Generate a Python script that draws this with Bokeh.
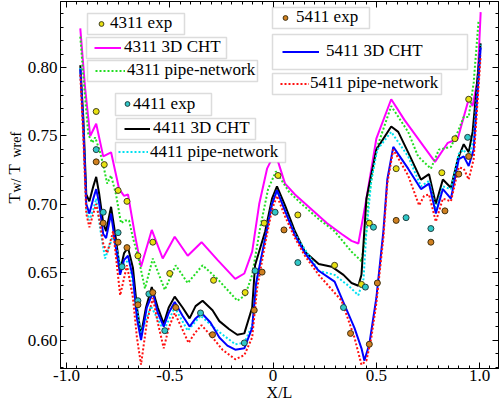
import math
import numpy as np
from bokeh.plotting import figure
from bokeh.layouts import row
from bokeh.models import (LinearAxis, FixedTicker, NumeralTickFormatter, CustomJSTickFormatter,
                          Legend, LegendItem, BoxAnnotation, Label, Range1d)
from bokeh.embed import file_html
from bokeh.resources import INLINE

# ---------------- data (X/L, Tw/Twref) ----------------
cht_4311 = [(-0.933,0.829),(-0.909,0.784),(-0.885,0.750),(-0.856,0.759),(-0.822,0.735),(-0.784,0.738),
            (-0.745,0.711),(-0.721,0.706),(-0.702,0.707),(-0.668,0.677),(-0.639,0.654),(-0.587,0.681),
            (-0.534,0.660),(-0.476,0.676),(-0.413,0.662),(-0.346,0.672),(-0.269,0.659),(-0.183,0.645),
            (-0.139,0.649),(-0.101,0.665),(-0.067,0.700),(-0.029,0.726),(0.010,0.738),(0.058,0.715),
            (0.106,0.707),(0.260,0.686),(0.332,0.678),(0.380,0.673),(0.413,0.671),(0.452,0.704),
            (0.500,0.748),(0.572,0.777),(0.635,0.762),(0.731,0.742),(0.784,0.731),(0.846,0.745),
            (0.894,0.748),(0.923,0.764),(0.947,0.777),(0.966,0.772),(0.990,0.791),(1.005,0.841)]
pipe_4311 = [(-0.933,0.823),(-0.913,0.784),(-0.894,0.751),(-0.875,0.745),(-0.861,0.749),(-0.841,0.740),
             (-0.822,0.729),(-0.803,0.715),(-0.784,0.721),(-0.760,0.707),(-0.736,0.686),(-0.716,0.688),
             (-0.697,0.688),(-0.678,0.675),(-0.654,0.662),(-0.620,0.638),(-0.582,0.660),(-0.524,0.637),
             (-0.471,0.655),(-0.413,0.642),(-0.341,0.655),(-0.269,0.645),(-0.173,0.629),(-0.135,0.633),
             (-0.101,0.648),(-0.063,0.682),(-0.024,0.711),(0.014,0.724),(0.077,0.709),(0.139,0.700),
             (0.221,0.689),(0.298,0.680),(0.380,0.665),(0.428,0.658),(0.452,0.680),(0.462,0.704),
             (0.500,0.740),(0.572,0.772),(0.654,0.753),(0.702,0.735),(0.764,0.726),(0.803,0.740),
             (0.861,0.742),(0.894,0.753),(0.923,0.764),(0.947,0.764),(0.971,0.789),(0.995,0.835)]
cht_4411 = [(-0.933,0.802),(-0.918,0.762),(-0.904,0.707),(-0.889,0.702),(-0.870,0.713),(-0.856,0.720),
            (-0.841,0.707),(-0.822,0.686),(-0.808,0.680),(-0.784,0.698),(-0.764,0.678),(-0.740,0.651),
            (-0.721,0.664),(-0.702,0.668),(-0.678,0.653),(-0.659,0.624),(-0.639,0.604),(-0.615,0.624),
            (-0.587,0.639),(-0.558,0.624),(-0.529,0.612),(-0.505,0.624),(-0.476,0.632),(-0.438,0.624),
            (-0.404,0.616),(-0.375,0.625),(-0.341,0.629),(-0.293,0.622),(-0.260,0.614),(-0.212,0.608),
            (-0.173,0.604),(-0.139,0.605),(-0.101,0.624),(-0.087,0.655),(-0.038,0.680),(-0.005,0.704),
            (0.019,0.713),(0.058,0.699),(0.106,0.680),(0.154,0.665),(0.221,0.656),(0.284,0.654),
            (0.341,0.648),(0.380,0.642),(0.413,0.640),(0.428,0.648),(0.452,0.704),(0.500,0.740),
            (0.572,0.757),(0.606,0.753),(0.654,0.738),(0.716,0.718),(0.755,0.722),(0.788,0.700),
            (0.822,0.718),(0.861,0.712),(0.894,0.733),(0.923,0.744),(0.947,0.738),(0.966,0.753),
            (1.005,0.818)]
pipe_4411 = [(-0.933,0.800),(-0.918,0.755),(-0.904,0.696),(-0.889,0.688),(-0.870,0.696),(-0.856,0.704),
             (-0.837,0.682),(-0.813,0.660),(-0.774,0.677),(-0.736,0.654),(-0.697,0.659),(-0.668,0.631),
             (-0.639,0.605),(-0.591,0.625),(-0.529,0.607),(-0.476,0.624),(-0.413,0.607),(-0.351,0.618),
             (-0.269,0.607),(-0.183,0.597),(-0.139,0.598),(-0.101,0.611),(-0.077,0.645),(-0.038,0.675),
             (-0.005,0.700),(0.019,0.710),(0.058,0.695),(0.106,0.678),(0.221,0.651),(0.298,0.648),
             (0.365,0.640),(0.413,0.633),(0.438,0.645),(0.452,0.680),(0.476,0.718),(0.505,0.740),
             (0.572,0.753),(0.654,0.735),(0.716,0.713),(0.755,0.717),(0.788,0.696),(0.822,0.713),
             (0.861,0.711),(0.899,0.737),(0.923,0.740),(0.947,0.733),(0.971,0.748),(1.005,0.817)]
cht_5411 = [(-0.933,0.799),(-0.918,0.755),(-0.904,0.700),(-0.889,0.693),(-0.870,0.704),(-0.856,0.711),
            (-0.841,0.700),(-0.822,0.678),(-0.808,0.675),(-0.784,0.693),(-0.764,0.671),(-0.740,0.648),
            (-0.721,0.659),(-0.702,0.662),(-0.678,0.646),(-0.659,0.616),(-0.639,0.600),(-0.611,0.624),
            (-0.582,0.635),(-0.558,0.620),(-0.529,0.610),(-0.505,0.620),(-0.476,0.628),(-0.438,0.618),
            (-0.404,0.610),(-0.375,0.616),(-0.346,0.620),(-0.303,0.613),(-0.260,0.602),(-0.221,0.596),
            (-0.183,0.593),(-0.139,0.594),(-0.101,0.609),(-0.082,0.642),(-0.038,0.675),(-0.005,0.700),
            (0.019,0.710),(0.058,0.695),(0.106,0.677),(0.154,0.664),(0.221,0.651),(0.298,0.643),
            (0.346,0.626),(0.394,0.609),(0.428,0.594),(0.442,0.585),(0.466,0.597),(0.500,0.631),
            (0.534,0.680),(0.553,0.718),(0.582,0.742),(0.654,0.726),(0.716,0.711),(0.755,0.715),
            (0.788,0.693),(0.822,0.711),(0.861,0.704),(0.899,0.733),(0.923,0.735),(0.947,0.728),
            (0.971,0.740),(1.005,0.815)]
pipe_5411 = [(-0.933,0.795),(-0.918,0.748),(-0.904,0.693),(-0.889,0.683),(-0.870,0.693),(-0.856,0.700),
             (-0.841,0.689),(-0.822,0.671),(-0.803,0.664),(-0.774,0.680),(-0.740,0.633),(-0.707,0.655),
             (-0.678,0.631),(-0.659,0.602),(-0.639,0.582),(-0.611,0.613),(-0.582,0.631),(-0.558,0.613),
             (-0.529,0.594),(-0.505,0.609),(-0.476,0.620),(-0.442,0.609),(-0.409,0.598),(-0.380,0.605),
             (-0.346,0.611),(-0.293,0.602),(-0.245,0.593),(-0.183,0.586),(-0.139,0.589),(-0.101,0.602),
             (-0.077,0.638),(-0.038,0.671),(-0.005,0.696),(0.019,0.706),(0.058,0.691),(0.106,0.675),
             (0.154,0.662),(0.221,0.648),(0.332,0.629),(0.394,0.602),(0.428,0.582),(0.452,0.585),
             (0.476,0.602),(0.500,0.627),(0.534,0.675),(0.553,0.715),(0.582,0.740),(0.654,0.721),
             (0.707,0.699),(0.731,0.706),(0.755,0.707),(0.788,0.687),(0.822,0.704),(0.861,0.702),
             (0.899,0.727),(0.923,0.726),(0.947,0.718),(0.971,0.733),(1.005,0.809)]
exp_4311 = [(-0.856,0.768),(-0.817,0.729),(-0.750,0.710),(-0.707,0.702),(-0.654,0.662),(-0.582,0.672),
            (-0.500,0.649),(-0.288,0.644),(-0.135,0.635),(-0.043,0.686),(0.024,0.721),(0.120,0.692),
            (0.298,0.655),(0.428,0.641),(0.466,0.686),(0.596,0.726),(0.817,0.723),(0.880,0.748),
            (0.947,0.777)]
exp_4411 = [(-0.856,0.740),(-0.822,0.694),(-0.750,0.679),(-0.731,0.654),(-0.654,0.629),(-0.601,0.634),
            (-0.524,0.607),(-0.351,0.620),(-0.139,0.598),(-0.087,0.651),(0.010,0.694),(0.120,0.657),
            (0.341,0.624),(0.447,0.639),(0.486,0.683),(0.644,0.690),(0.764,0.682),(0.942,0.749)]
exp_5411 = [(-0.856,0.731),(-0.822,0.686),(-0.750,0.672),(-0.707,0.668),(-0.654,0.626),(-0.582,0.635),
            (-0.471,0.624),(-0.293,0.604),(-0.091,0.622),(-0.053,0.650),(0.053,0.681),(0.375,0.605),
            (0.466,0.597),(0.505,0.642),(0.596,0.688),(0.764,0.672),(0.832,0.695),(0.899,0.722),
            (0.947,0.735)]

x_ticks = [-1.0, -0.5, 0.0, 0.5, 1.0]
y_ticks = [0.60, 0.65, 0.70, 0.75, 0.80]

FONT = "Liberation Serif"

def xs(d): return [a for a, b in d]
def ys(d): return [b for a, b in d]

# ---------------- layout geometry (page pixels) ----------------
YW = 24           # width of the y-title strip
H = 405
FL, FB = 57, 368  # frame left / bottom in page pixels

p = figure(width=500 - YW, height=H, output_backend="svg", toolbar_location=None,
           x_range=Range1d(-1.0288, 1.0913), y_range=Range1d(0.5792, 0.8488),
           min_border_left=FL - YW, min_border_right=2, min_border_top=1, min_border_bottom=H - FB,
           x_axis_location=None, y_axis_location=None)
for g in p.grid:
    g.visible = False
p.outline_line_color = "black"
p.outline_line_width = 1
p.background_fill_color = "white"
p.border_fill_color = "white"

xt = FixedTicker(ticks=x_ticks, minor_ticks=list(np.round(np.arange(-1.05, 1.101, 0.05), 3)))
yt = FixedTicker(ticks=y_ticks, minor_ticks=list(np.round(np.arange(0.58, 0.8451, 0.01), 3)))

def style_axis(ax, show_labels):
    ax.axis_line_color = "black"
    ax.axis_line_width = 1
    ax.major_tick_in = 6
    ax.major_tick_out = 0
    ax.minor_tick_in = 3
    ax.minor_tick_out = 0
    ax.major_tick_line_color = "black"
    ax.minor_tick_line_color = "black"
    ax.major_label_text_font = FONT
    if show_labels:
        ax.major_label_text_font_size = "17px"
        ax.major_label_text_color = "black"
    else:
        ax.major_label_text_font_size = "0px"
        ax.major_label_text_color = None
        ax.major_label_standoff = 0

bx = LinearAxis(ticker=xt, formatter=CustomJSTickFormatter(
    code="return Math.abs(tick) < 1e-9 ? '0' : tick.toFixed(1);"))
style_axis(bx, True)
bx.major_label_standoff = 1
bx.axis_label = "X/L"
bx.axis_label_text_font = FONT
bx.axis_label_text_font_size = "16px"
bx.axis_label_text_font_style = "normal"
bx.axis_label_text_color = "black"
bx.axis_label_standoff = 0
ly = LinearAxis(ticker=yt, formatter=NumeralTickFormatter(format="0.00"))
style_axis(ly, True)
ly.major_label_standoff = 3
tx = LinearAxis(ticker=xt)
style_axis(tx, False)
ry = LinearAxis(ticker=yt)
style_axis(ry, False)
p.add_layout(bx, "below")
p.add_layout(ly, "left")
p.add_layout(tx, "above")
p.add_layout(ry, "right")

# ---------------- series ----------------
r_c43 = p.line(xs(cht_4311), ys(cht_4311), line_color="#ff00ff", line_width=2)
r_p43 = p.line(xs(pipe_4311), ys(pipe_4311), line_color="#22dd22", line_width=2, line_dash="2 2")
r_c44 = p.line(xs(cht_4411), ys(cht_4411), line_color="black", line_width=2)
r_p44 = p.line(xs(pipe_4411), ys(pipe_4411), line_color="#00e0f0", line_width=2, line_dash="2 2")
r_c54 = p.line(xs(cht_5411), ys(cht_5411), line_color="#0000ff", line_width=2)
r_p54 = p.line(xs(pipe_5411), ys(pipe_5411), line_color="#ff1010", line_width=2, line_dash="2 2")
r_e43 = p.scatter(xs(exp_4311), ys(exp_4311), size=6, fill_color="#e8e010", line_color="#404020", line_width=1)
r_e44 = p.scatter(xs(exp_4411), ys(exp_4411), size=6, fill_color="#30c8c8", line_color="#204040", line_width=1)
r_e54 = p.scatter(xs(exp_5411), ys(exp_5411), size=6, fill_color="#d08020", line_color="#403010", line_width=1)

# ---------------- legend boxes (page pixel layout) ----------------
# (renderer, label, box L, T, R, B, glyph start, glyph width, text start)
legend_specs = [
    (r_e43, "4311 exp",          84, 13, 181, 34,  92, 12, 107),
    (r_c43, "4311 3D CHT",       83, 37, 223, 58,  91, 27, 121),
    (r_p43, "4311 pipe-network", 84, 60, 254, 81,  92, 30, 124),
    (r_e44, "4411 exp",         112, 93, 208, 115, 118, 12, 130),
    (r_c44, "4411 3D CHT",      113, 118, 252, 139, 121, 26, 150),
    (r_p44, "4411 pipe-network", 112, 142, 282, 162, 115, 30, 147),
    (r_e54, "5411 exp",         269, 7, 366, 28, 276, 12, 293),
    (r_c54, "5411 3D CHT",      269, 34, 464, 69, 279, 37, 323),
    (r_p54, "5411 pipe-network", 269, 73, 438, 94, 277, 29, 307),
]
for rend, lab, L, T, R, B, gx, gw, tx0 in legend_specs:
    p.add_layout(BoxAnnotation(left=L - FL, right=R - FL, top=FB - T, bottom=FB - B,
                               left_units="screen", right_units="screen",
                               top_units="screen", bottom_units="screen",
                               fill_color="white", fill_alpha=1.0,
                               line_color="#8a8a8a", line_width=1.5))
for rend, lab, L, T, R, B, gx, gw, tx0 in legend_specs:
    gh = 19
    mid = (T + B) / 2.0
    bottom = mid + gh / 2.0
    leg = Legend(items=[LegendItem(label=lab, renderers=[rend])],
                 location=(gx - FL, FB - bottom), padding=0, margin=0, spacing=0,
                 glyph_width=gw, glyph_height=gh, label_height=gh,
                 label_standoff=tx0 - gx - gw, label_width=10,
                 background_fill_alpha=0, border_line_alpha=0,
                 label_text_font=FONT, label_text_font_size="17px", label_text_color="black")
    p.add_layout(leg)

# ---------------- y title strip (left) ----------------
yfig = figure(width=YW, height=H, output_backend="svg", toolbar_location=None, min_border=0,
              x_range=Range1d(0, 1), y_range=Range1d(0, 1),
              x_axis_location=None, y_axis_location=None)
yfig.outline_line_color = None
yfig.background_fill_color = "white"
yfig.border_fill_color = "white"
for g in yfig.grid:
    g.visible = False
ylab_parts = [("T", 203, 14, "17px"), ("w/", 192, 16, "14px"),
              ("T", 174, 14, "17px"), ("wref", 157, 16, "14px")]
for txt, yc, xc, fs in ylab_parts:
    yfig.add_layout(Label(x=xc, y=yc, x_units="canvas", y_units="canvas",
                          text=txt, angle=math.pi / 2, text_font=FONT, text_font_size=fs,
                          text_align="left", text_baseline="alphabetic", text_color="black"))

layout = row(yfig, p, spacing=0)
open("out.html", "w").write(file_html(layout, INLINE))
